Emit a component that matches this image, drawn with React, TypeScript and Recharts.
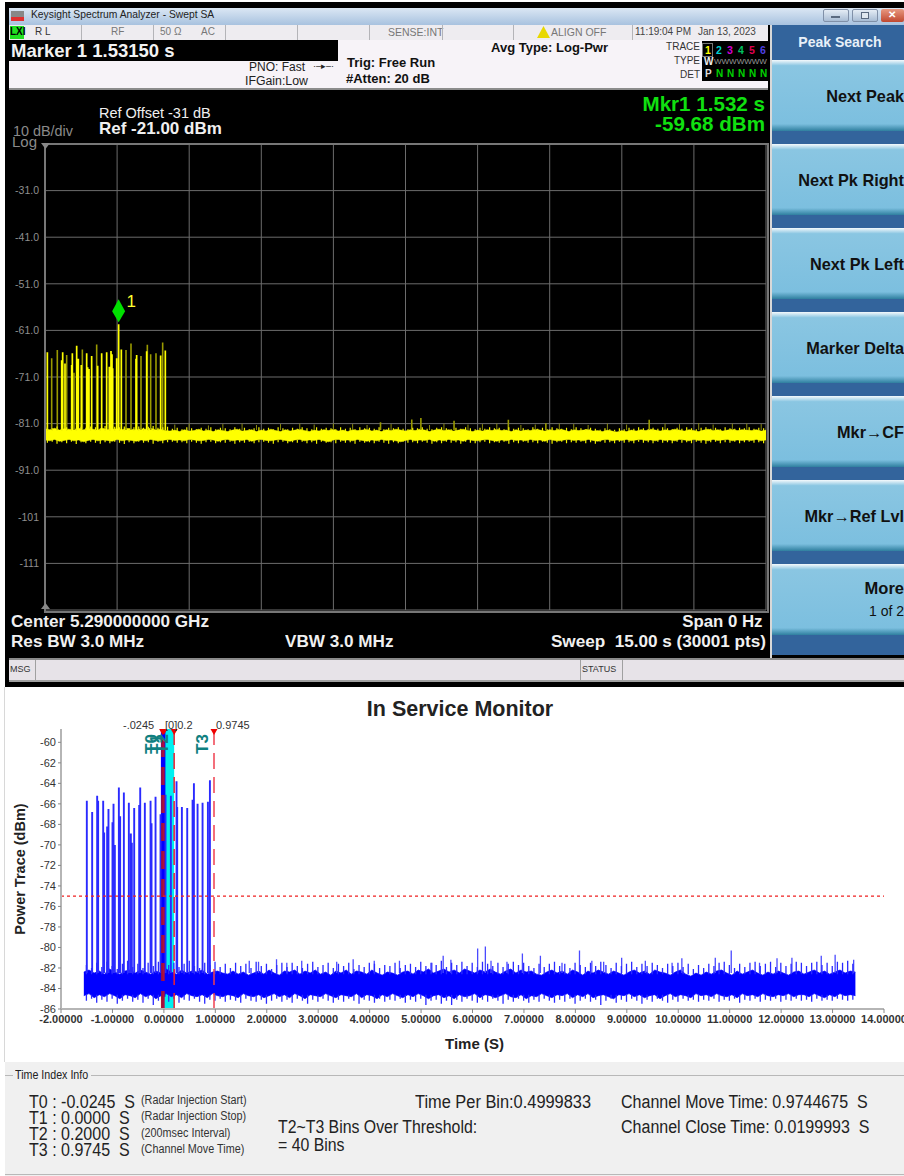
import React from "react";
import {
  ComposedChart, Area, Line, XAxis, YAxis, CartesianGrid, ReferenceLine, ReferenceDot, ReferenceArea,
} from "recharts";

// ---------- Spectrum analyzer (upper) data ----------
const saXTicks = [0, 1.5, 3, 4.5, 6, 7.5, 9, 10.5, 12, 13.5, 15];
const saYTicks = [-21, -31, -41, -51, -61, -71, -81, -91, -101, -111, -121];
const saBrightTimes = [0.049, 0.347, 0.368, 0.416, 0.555, 0.569, 0.659, 0.693, 0.756, 0.867, 0.888, 0.915, 0.971, 1.096, 1.179, 1.283, 1.338, 1.373, 1.394, 1.408, 1.491, 1.532, 1.588, 1.893, 1.907, 2.115, 2.406, 2.503];
const saBrightPeaks = [-65.7, -67.4, -65.7, -68.1, -68.4, -65.9, -64.3, -67.1, -68.4, -65.9, -68.9, -69.3, -66.5, -68.6, -65.9, -65.7, -68.8, -65.4, -66.1, -69.1, -67.0, -59.68, -65.1, -67.1, -66.3, -65.5, -66.4, -65.3];
const saDimTimes = [0.139, 0.256, 0.451, 0.603, 0.777, 1.075, 1.685, 1.789, 1.997, 2.129, 2.198, 2.309, 2.448, 6.98, 7.63, 7.82, 8.51, 9.64, 10.42, 12.57];
const saDimPeaks = [-67.0, -65.2, -66.3, -70.1, -65.1, -64.0, -65.2, -63.8, -66.5, -64.1, -66.1, -65.9, -63.6, -80.7, -80.1, -79.8, -80.4, -80.2, -80.9, -80.2];
const saTipTimes = [2.7, 3.0, 3.4, 3.7, 4.1, 4.4, 4.9, 5.3, 5.6, 6.0, 6.4, 6.7, 7.2, 8.0, 8.3, 8.8, 9.1, 9.4, 9.9, 10.2, 10.7, 11.0, 11.3, 11.7, 12.1, 12.9, 13.2, 13.6, 13.9, 14.3, 14.6, 14.9];
const saTipPeaks = [-81.2, -81.0, -81.4, -81.1, -81.0, -81.3, -81.1, -81.0, -81.2, -81.0, -81.1, -81.3, -81.1, -81.3, -81.0, -81.2, -81.1, -81.0, -81.3, -81.2, -81.0, -81.1, -81.3, -81.0, -81.2, -81.0, -81.1, -80.9, -81.2, -81.0, -81.0, -81.1];
const saHigh = [
  -82.1, -82.3, -82.0, -82.4, -82.1, -82.2, -82.4, -82.0, -82.3, -82.1, -82.2, -82.4, -82.0, -82.3, -82.2, -82.1, -82.3, -82.0, -82.2, -82.4, -82.1, -82.2, -82.0, -82.3, -82.2, -82.5,
  -82.6, -82.4, -82.7, -82.3, -82.6, -82.5, -82.2, -82.6, -82.4, -82.7, -82.3, -82.5, -82.7, -82.4, -82.2, -82.6, -82.5, -82.3, -82.7, -82.4, -82.6, -82.2, -82.5, -82.7,
  -82.3, -82.6, -82.4, -82.2, -82.5, -82.7, -82.4, -82.6, -82.3, -82.5, -82.2, -82.6, -82.4, -82.7, -82.3, -82.5, -82.4, -82.2, -82.6, -82.4, -82.7, -82.3, -82.5, -82.2, -82.4, -82.6,
  -82.3, -82.5, -82.2, -82.4, -82.7, -82.4, -82.2, -82.5, -82.3, -82.6, -82.4, -82.2, -82.5, -82.7, -82.4, -82.6, -82.3, -82.5, -82.2, -82.5, -82.4, -82.7, -82.3, -82.6, -82.4,
  -82.5, -82.2, -82.4, -82.6, -82.3, -82.5, -82.2, -82.4, -82.7, -82.3, -82.5, -82.4, -82.2, -82.6, -82.5, -82.7, -82.4, -82.6, -82.8, -82.5, -82.7, -82.4, -82.6, -82.3, -82.5,
  -82.2, -82.4, -82.6, -82.3, -82.5, -82.2, -82.4, -82.6, -82.3, -82.5, -82.7, -82.4, -82.2, -82.5, -82.3, -82.6, -82.4, -82.2, -82.5, -82.3, -82.4, -82.5, -82.3, -82.6, -82.4,
];
const saLow = [
  -84.5, -84.7, -84.4, -84.8, -84.6, -84.4, -84.7, -84.5, -84.9, -84.6, -84.4, -84.7, -84.5, -84.6, -84.8, -84.4, -84.7, -84.5, -84.6, -84.8, -84.5, -84.7, -84.4, -84.6, -84.7, -84.5,
  -84.4, -84.6, -84.5, -84.7, -84.4, -84.5, -84.7, -84.6, -84.4, -84.5, -84.8, -84.5, -84.4, -84.7, -84.5, -84.6, -84.4, -84.8, -84.5, -84.4, -84.6, -84.7, -84.5, -84.4,
  -84.6, -84.8, -84.5, -84.4, -84.7, -84.5, -84.6, -84.4, -84.7, -84.9, -84.5, -84.4, -84.6, -84.5, -84.7, -84.4, -84.6, -84.8, -84.5, -84.7, -84.4, -84.6, -84.5, -84.7, -84.9, -84.6,
  -84.4, -84.7, -84.5, -84.6, -84.4, -84.8, -84.5, -84.7, -84.4, -84.6, -84.5, -84.8, -84.4, -84.6, -84.7, -84.5, -84.4, -84.6, -84.8, -84.5, -84.7, -84.4, -84.6, -84.5, -84.7,
  -84.4, -84.6, -84.5, -84.8, -84.4, -84.6, -84.7, -84.5, -84.4, -84.6, -84.5, -84.7, -84.4, -84.6, -84.8, -84.5, -84.4, -84.7, -84.5, -84.6, -84.4, -84.7, -84.5, -84.4, -84.6,
  -84.5, -84.7, -84.4, -84.6, -84.5, -84.7, -84.4, -84.5, -84.7, -84.4, -84.6, -84.5, -84.7, -84.4, -84.6, -84.5, -84.4, -84.7, -84.5, -84.6, -84.5, -84.6, -84.4, -84.7, -84.5,
];
const saRippleHigh = [
  -81.7, -82.0, -81.6, -81.9, -81.8, -81.5, -82.0, -81.7, -81.9, -81.6, -81.8, -82.0, -81.5, -81.9, -81.7, -81.8, -81.6, -82.0, -81.8, -81.6, -81.9, -81.7, -81.5, -81.9, -81.8, -81.7,
  -82.1, -81.9, -82.2, -81.8, -82.0, -82.2, -81.9, -82.1, -81.8, -82.2, -81.9, -82.0, -82.2, -81.8, -82.1, -81.9, -82.2, -82.0, -81.8, -82.1, -81.9, -82.2, -81.8, -82.0,
  -82.2, -81.9, -82.1, -81.8, -82.0, -82.2, -81.8, -82.1, -81.9, -82.0, -82.2, -81.8, -82.1, -81.9, -82.2, -81.8, -82.0, -81.9, -82.1, -81.8, -82.2, -81.9, -82.0, -81.8, -82.1, -82.2,
  -81.9, -82.0, -81.8, -82.1, -82.2, -81.9, -81.8, -82.0, -82.2, -81.9, -82.1, -81.8, -82.0, -82.2, -81.9, -82.1, -81.8, -82.0, -81.9, -82.2, -81.8, -82.1, -81.9, -82.0, -82.2,
  -81.8, -82.1, -81.9, -82.2, -81.8, -82.0, -82.1, -81.9, -82.2, -81.8, -82.0, -82.2, -81.9, -82.1, -82.3, -82.0, -82.2, -82.3, -82.0, -82.2, -81.9, -82.1, -81.8, -82.0, -82.2,
  -81.9, -82.1, -81.8, -82.0, -82.2, -81.9, -82.1, -81.8, -82.0, -82.2, -81.9, -81.8, -82.1, -81.9, -82.2, -81.8, -82.0, -82.1, -81.9, -82.0, -81.8, -82.1, -81.9, -82.0,
];
const saRippleLow = [
  -85.1, -84.9, -85.3, -85.0, -85.2, -84.9, -85.4, -85.0, -85.2, -84.9, -85.1, -85.3, -85.0, -85.2, -84.9, -85.1, -85.4, -85.0, -85.2, -84.9, -85.1, -85.0, -85.3, -84.9, -85.2, -85.0,
  -84.9, -85.1, -85.0, -85.2, -84.9, -85.1, -85.3, -85.0, -84.9, -85.2, -85.0, -85.1, -84.9, -85.3, -85.0, -85.1, -84.9, -85.2, -85.0, -84.9, -85.1, -85.3, -85.0, -84.9,
  -85.2, -85.0, -85.1, -84.9, -85.2, -85.0, -85.3, -84.9, -85.1, -85.0, -85.2, -84.9, -85.1, -85.0, -85.3, -84.9, -85.1, -85.0, -85.2, -84.9, -85.1, -85.3, -85.0, -85.2, -84.9, -85.1,
  -85.0, -85.2, -84.9, -85.1, -85.3, -85.0, -85.2, -84.9, -85.1, -85.0, -85.3, -84.9, -85.1, -85.2, -85.0, -84.9, -85.2, -85.0, -85.1, -84.9, -85.3, -85.0, -85.2, -84.9, -85.1,
  -85.0, -85.2, -84.9, -85.1, -85.3, -85.0, -84.9, -85.2, -85.0, -85.1, -84.9, -85.2, -85.0, -85.3, -84.9, -85.1, -85.0, -85.2, -84.9, -85.1, -85.0, -85.2, -84.9, -85.1, -85.0,
  -85.2, -84.9, -85.1, -85.0, -85.2, -84.9, -85.1, -85.0, -85.2, -84.9, -85.1, -85.3, -85.0, -84.9, -85.2, -85.0, -85.1, -84.9, -85.2, -85.0, -84.9, -85.1, -85.0, -85.2,
];

// ---------- In Service Monitor (lower) data ----------
const ismXTicks = [-2, -1, 0, 1, 2, 3, 4, 5, 6, 7, 8, 9, 10, 11, 12, 13, 14];
const ismYTicks = [-60, -62, -64, -66, -68, -70, -72, -74, -76, -78, -80, -82, -84, -86];
const ismSpikeTimes = [-1.498, -1.394, -1.297, -1.278, -1.18, -1.161, -1.103, -1.077, -0.999, -0.979, -0.953, -0.875, -0.85, -0.778, -0.681, -0.642, -0.623, -0.577, -0.48, -0.46, -0.37, -0.259, -0.24, -0.162, -0.065, 0.032, 0.136, 0.246, 0.259, 0.35, 0.454, 0.558, 0.584, 0.655, 0.752, 0.856, 0.895];
const ismSpikePeaks = [-65.7, -66.8, -65.2, -65.7, -65.7, -68.8, -68.2, -66.5, -67.8, -66.0, -70.0, -64.4, -67.2, -64.9, -65.9, -68.9, -69.8, -66.4, -66.1, -64.4, -65.9, -65.7, -67.9, -65.3, -67.0, -65.1, -65.2, -63.8, -66.3, -66.3, -66.4, -65.6, -64.0, -66.0, -65.9, -65.8, -63.7];
const ismTipTimes = [1.66, 1.84, 2.19, 2.39, 2.68, 3.36, 3.68, 4.09, 4.58, 5.21, 5.43, 5.58, 6.1, 6.25, 6.36, 6.67, 6.97, 7.32, 7.74, 8.08, 8.32, 8.55, 8.9, 9.36, 9.88, 10.07, 10.72, 11.03, 11.58, 11.92, 12.21, 12.78, 13.05, 13.41];
const ismTipPeaks = [-81.3, -81.4, -81.15, -81.5, -81.3, -81.4, -81.15, -81.3, -81.3, -81.5, -80.8, -81.2, -80.1, -79.9, -81.3, -81.4, -80.6, -80.8, -81.5, -80.3, -81.3, -81.4, -81.0, -81.3, -81.5, -81.05, -81.0, -80.3, -81.5, -81.05, -81.0, -80.8, -80.7, -81.2];
const ismHigh = [
  -82.4, -82.2, -82.5, -82.3, -82.6, -82.1, -82.4, -82.6, -82.3, -82.2, -82.5, -82.2, -82.4, -82.6, -82.3, -82.5, -82.1, -82.4, -82.6, -82.2, -82.5, -82.3, -82.4, -82.2, -82.6, -82.4, -82.3, -82.5, -82.6, -82.3,
  -82.6, -82.4, -82.7, -82.5, -82.3, -82.6, -82.2, -82.5, -82.7, -82.3, -82.4, -82.2, -82.6, -82.3, -82.5, -82.2, -82.6, -82.4, -82.7, -82.3, -82.5, -82.2, -82.6, -82.3, -82.4, -82.6, -82.2, -82.5, -82.7, -82.4,
  -82.5, -82.7, -82.4, -82.3, -82.6, -82.2, -82.4, -82.1, -82.5, -82.3, -82.1, -82.4, -82.2, -82.5, -82.1, -82.3, -82.5, -82.2, -82.4, -82.1, -82.4, -82.6, -82.3, -82.1, -82.5, -82.2, -82.4, -82.3, -82.6, -82.7,
  -82.4, -82.2, -82.5, -82.3, -82.6, -82.2, -82.4, -82.7, -82.3, -82.5, -82.2, -82.4, -82.6, -82.3, -82.5, -82.7, -82.4, -82.2, -82.5, -82.3, -82.6, -82.2, -82.4, -82.5, -82.7, -82.4, -82.2, -82.6, -82.8, -82.5,
  -82.7, -82.4, -82.6, -82.3, -82.2, -82.5, -82.7, -82.3, -82.6, -82.4, -82.2, -82.5, -82.7, -82.4, -82.6, -82.3, -82.5, -82.7, -82.4, -82.3, -82.6, -82.4, -82.2, -82.5, -82.3, -82.6, -82.4, -82.2, -82.5, -82.3, -82.4,
];
const ismLow = [
  -84.7, -84.5, -84.9, -84.6, -84.8, -84.5, -84.7, -85.0, -84.6, -84.7, -84.9, -84.5, -84.8, -84.6, -85.0, -84.7, -84.5, -84.8, -84.6, -84.9, -84.5, -84.7, -84.8, -84.6, -84.9, -84.5, -84.7, -84.8, -84.6, -84.7,
  -84.9, -84.5, -84.7, -84.8, -84.6, -84.9, -84.7, -84.5, -84.8, -84.6, -84.9, -84.5, -84.7, -85.0, -84.6, -84.7, -84.8, -84.5, -84.7, -84.9, -84.6, -84.7, -84.8, -84.5, -84.9, -84.6, -84.7, -85.0, -84.6, -84.8,
  -84.5, -84.7, -84.9, -84.6, -84.8, -84.5, -84.7, -85.0, -84.7, -84.6, -84.9, -84.7, -85.0, -84.6, -84.8, -84.7, -84.5, -84.9, -84.6, -84.7, -84.9, -84.7, -84.5, -84.8, -84.9, -84.6, -85.0, -84.7, -84.8, -84.5,
  -84.7, -84.9, -84.6, -84.7, -84.5, -84.9, -84.6, -84.8, -84.5, -84.9, -84.7, -84.6, -84.8, -85.0, -84.6, -84.7, -84.5, -84.8, -84.6, -84.9, -84.7, -84.6, -85.0, -84.7, -84.5, -84.8, -84.6, -84.7, -84.9, -84.5,
  -84.7, -84.6, -84.8, -84.5, -84.7, -84.8, -84.6, -84.9, -84.5, -84.7, -84.6, -84.8, -84.5, -84.7, -84.8, -84.6, -84.7, -84.5, -84.8, -84.6, -84.6, -84.8, -84.5, -84.7, -84.9, -84.6, -84.8, -84.5, -84.7, -84.6, -84.7,
];
const ismRippleHigh = [
  -81.7, -82.0, -81.5, -81.9, -81.4, -81.8, -82.1, -81.6, -81.3, -81.9, -81.6, -82.0, -81.5, -81.8, -81.4, -82.0, -81.7, -81.5, -81.9, -81.6, -81.3, -81.8, -82.0, -81.5, -81.7, -81.4, -81.9, -81.6, -82.0, -81.5,
  -81.8, -81.6, -82.0, -81.4, -81.8, -81.6, -82.1, -81.7, -81.5, -81.9, -81.5, -81.8, -82.0, -81.6, -81.4, -81.9, -81.7, -81.5, -82.0, -81.6, -81.8, -81.5, -82.1, -81.7, -81.9, -81.5, -81.6, -82.0, -81.7, -81.8,
  -81.5, -82.0, -81.7, -81.6, -81.9, -81.4, -81.8, -81.5, -81.7, -81.3, -81.9, -81.5, -81.7, -81.4, -81.8, -81.5, -81.9, -81.4, -81.6, -81.8, -81.5, -81.9, -81.6, -81.4, -81.7, -81.5, -81.8, -82.0, -81.6, -81.9,
  -81.6, -81.4, -81.8, -81.6, -82.0, -81.5, -81.7, -81.9, -81.5, -81.8, -81.4, -81.7, -82.0, -81.5, -81.8, -81.6, -81.4, -81.9, -81.6, -81.8, -81.5, -81.7, -82.0, -81.6, -81.8, -81.5, -81.9, -81.6, -82.1, -81.7,
  -82.0, -81.6, -81.8, -81.5, -81.4, -81.7, -82.0, -81.6, -81.9, -81.5, -81.4, -81.8, -81.6, -81.4, -81.9, -81.5, -81.8, -81.6, -81.4, -81.5, -81.8, -81.5, -81.4, -81.7, -81.5, -81.8, -81.4, -81.5, -81.3, -81.6,
];
const ismRippleLow = [
  -85.2, -85.0, -85.4, -85.1, -85.3, -85.0, -85.5, -85.2, -85.0, -85.3, -85.1, -85.4, -85.0, -85.6, -85.2, -85.1, -85.3, -85.0, -85.4, -85.1, -85.2, -85.0, -85.3, -85.5, -85.1, -85.2, -85.0, -85.3, -85.1, -85.2,
  -85.4, -85.0, -85.2, -85.3, -85.1, -85.5, -85.2, -85.0, -85.3, -85.1, -85.4, -85.0, -85.2, -85.5, -85.1, -85.3, -85.0, -85.2, -85.4, -85.1, -85.3, -85.0, -85.2, -85.5, -85.1, -85.2, -85.4, -85.0, -85.3, -85.1,
  -85.2, -85.0, -85.4, -85.1, -85.3, -85.0, -85.6, -85.2, -85.1, -85.5, -85.2, -85.6, -85.1, -85.3, -85.0, -85.2, -85.4, -85.1, -85.3, -85.0, -85.2, -85.5, -85.1, -85.3, -85.0, -85.2, -85.4, -85.1, -85.3, -85.0,
  -85.2, -85.4, -85.1, -85.3, -85.0, -85.5, -85.2, -85.0, -85.3, -85.1, -85.6, -85.2, -85.0, -85.4, -85.1, -85.3, -85.0, -85.2, -85.5, -85.1, -85.3, -85.0, -85.2, -85.4, -85.1, -85.3, -85.0, -85.2, -85.1, -85.3,
  -85.1, -85.2, -85.0, -85.3, -85.1, -85.2, -85.0, -85.4, -85.1, -85.2, -85.0, -85.3, -85.1, -85.2, -85.0, -85.3, -85.1, -85.2, -85.0, -85.2, -85.1, -85.3, -85.0, -85.2, -85.1, -85.2, -85.0, -85.1, -85.2, -85.1,
];
const markerT0 = -0.0245;
const markerT1 = 0;
const markerT2 = 0.2;
const markerT3 = 0.9745;
const threshold = -75;

const statusCells = [81, 153, 225, 297, 369, 442, 513, 632];
const softKeys = [
  { label: "Next Peak", top: 60 },
  { label: "Next Pk Right", top: 144 },
  { label: "Next Pk Left", top: 228 },
  { label: "Marker Delta", top: 312 },
  { label: "Mkr→CF", top: 396 },
  { label: "Mkr→Ref Lvl", top: 480 },
  { label: "More", top: 564, sub: "1 of 2" },
];
const traceDigits = [
  { d: "1", c: "#ffff00" }, { d: "2", c: "#00d0d0" }, { d: "3", c: "#d000d0" },
  { d: "4", c: "#00c060" }, { d: "5", c: "#e00050" }, { d: "6", c: "#5040e0" },
];

const bandRows = (start: number, lo: number[], hi: number[]) =>
  hi.map((h, i) => ({ t: start + i * 0.1, band: [lo[i], h] }));
// A null row lifts the pen, so each spike stays a separate vertical stroke.
const spikeRows = (times: number[], peaks: number[], base: number) =>
  times.flatMap((t, i) => [{ t, v: base }, { t, v: peaks[i] }, { t, v: null }]);
const rippleRows = (start: number, peaks: number[], base: number) =>
  peaks.flatMap((p, i) => [{ t: start + i * 0.1, v: base }, { t: start + i * 0.1, v: p }, { t: start + i * 0.1, v: null }]);

const SANS = "'Liberation Sans', Arial, sans-serif";

type TP = {
  x: number; y: number; size?: number; bold?: boolean; color?: string;
  right?: boolean; center?: boolean; sx?: number; children: React.ReactNode;
};
function T({ x, y, size = 12, bold, color = "#000", right, center, sx = 1, children }: TP) {
  const origin = right ? "right center" : center ? "center center" : "left center";
  const style: React.CSSProperties = {
    position: "absolute", top: y - size, lineHeight: `${size * 2}px`, fontSize: size,
    fontFamily: SANS, fontWeight: bold ? 700 : 400, color, whiteSpace: "pre",
    transform: `scaleX(${sx})`, transformOrigin: origin,
  };
  if (right) style.right = 904 - x;
  else if (center) { style.left = x - 300; style.width = 600; style.textAlign = "center"; }
  else style.left = x;
  return <div style={style}>{children}</div>;
}
const Box = ({ l, t, w, h, bg, extra }: { l: number; t: number; w: number; h: number; bg: string; extra?: React.CSSProperties }) => (
  <div style={{ position: "absolute", left: l, top: t, width: w, height: h, background: bg, ...extra }} />
);

const MarkerDiamond = (p: any) => {
  const { cx, cy } = p;
  return (
    <g>
      <polygon points={`${cx},${cy - 25} ${cx + 6.5},${cy - 13} ${cx},${cy - 2} ${cx - 6.5},${cy - 13}`} fill="#00e000" />
      <text x={cx + 8} y={cy - 17} fill="#ffff30" fontSize={17} fontFamily={SANS}>1</text>
    </g>
  );
};
const RedTriangle = (p: any) => (
  <polygon points={`${p.cx - 3.5},${p.cy} ${p.cx + 3.5},${p.cy} ${p.cx},${p.cy + 6}`} fill="#f00000" />
);
const saLabel = (v: number) => {
  if (v === -21 || v === -121) return "";
  return v <= -100 ? String(v) : v.toFixed(1);
};

function SpectrumChart() {
  return (
    <ComposedChart
      width={772} height={500}
      data={bandRows(0, saLow, saHigh)}
      margin={{ top: 14, right: 6, bottom: 20, left: 0 }}
    >
      <CartesianGrid stroke="#6c6c6c" strokeWidth={1} />
      <XAxis type="number" dataKey="t" domain={[0, 15]} ticks={saXTicks} tick={{ fill: "none", fontSize: 1 }} tickFormatter={() => ""} tickLine={false} axisLine={false} height={0} interval={0} />
      <YAxis
        type="number" domain={[-121, -21]} ticks={saYTicks} width={45} axisLine={false} tickLine={false} interval={0} tickSize={4}
        tick={{ fill: "#8f8f8f", fontSize: 10.5, fontFamily: SANS }}
        tickFormatter={saLabel}
      />
      <Area dataKey="band" type="linear" stroke="#ffff00" strokeWidth={0.5} fill="#ffff00" fillOpacity={1} isAnimationActive={false} dot={false} activeDot={false} />
      <Line data={spikeRows(saDimTimes, saDimPeaks, -82.4)} dataKey="v" stroke="#9a9a00" strokeWidth={1.6} dot={false} isAnimationActive={false} />
      <Line data={spikeRows(saTipTimes, saTipPeaks, -82.4)} dataKey="v" stroke="#8a8a10" strokeWidth={1} dot={false} isAnimationActive={false} />
      <Line data={spikeRows(saBrightTimes, saBrightPeaks, -82.5)} dataKey="v" stroke="#ffff00" strokeWidth={1.7} dot={false} isAnimationActive={false} />
      <Line data={rippleRows(0.05, saRippleHigh, -82.6)} dataKey="v" stroke="#f2f200" strokeWidth={1.2} dot={false} isAnimationActive={false} />
      <Line data={rippleRows(0.05, saRippleLow, -84.5)} dataKey="v" stroke="#f2f200" strokeWidth={1.2} dot={false} isAnimationActive={false} />
      <ReferenceDot x={1.5315} y={-59.68} shape={MarkerDiamond} ifOverflow="visible" />
    </ComposedChart>
  );
}

function MonitorChart() {
  return (
    <ComposedChart
      width={904} height={360}
      data={bandRows(-1.556, ismLow, ismHigh)}
      margin={{ top: 29, right: 20, bottom: 0, left: 0 }}
    >
      <XAxis
        type="number" dataKey="t" domain={[-2, 14]} ticks={ismXTicks} height={51} interval={0}
        axisLine={{ stroke: "#b5b5b5", strokeWidth: 2 }} tickLine={{ stroke: "#888" }} tickSize={4}
        tick={{ fill: "#333", fontSize: 11, fontWeight: 700, fontFamily: SANS }}
        tickFormatter={(v: number) => v.toFixed(5)}
        label={{ value: "Time (S)", position: "insideBottom", offset: 11, dx: 2, fill: "#222", fontSize: 15, fontWeight: 700, fontFamily: SANS }}
      />
      <YAxis
        type="number" domain={[-86, -58.7]} ticks={ismYTicks} width={61} interval={0}
        axisLine={{ stroke: "#b5b5b5", strokeWidth: 2 }} tickLine={{ stroke: "#888" }} tickSize={3}
        tick={{ fill: "#333", fontSize: 11, fontFamily: SANS }}
        label={{ value: "Power Trace (dBm)", angle: -90, position: "insideLeft", offset: 20, fill: "#222", fontSize: 14.5, fontWeight: 700, fontFamily: SANS, style: { textAnchor: "middle" } }}
      />
      <ReferenceArea x1={markerT1} x2={markerT2} y1={-86} y2={-58.7} fill="#00f0f0" fillOpacity={1} stroke="none" />
      <ReferenceArea x1={-0.058} x2={0.03} y1={-84.8} y2={-58.7} fill="#0000ff" fillOpacity={1} stroke="none" />
      <Area dataKey="band" type="linear" stroke="#0000ff" strokeWidth={0.7} fill="#0000ff" fillOpacity={1} isAnimationActive={false} dot={false} activeDot={false} />
      <Line data={spikeRows(ismSpikeTimes, ismSpikePeaks, -82.5)} dataKey="v" stroke="#2a2aff" strokeWidth={1.9} dot={false} isAnimationActive={false} />
      <Line data={spikeRows(ismTipTimes, ismTipPeaks, -82.5)} dataKey="v" stroke="#4a4aff" strokeWidth={1.3} dot={false} isAnimationActive={false} />
      <Line data={rippleRows(-1.506, ismRippleHigh, -82.6)} dataKey="v" stroke="#2a2aff" strokeWidth={1.3} dot={false} isAnimationActive={false} />
      <Line data={rippleRows(-1.506, ismRippleLow, -84.6)} dataKey="v" stroke="#2a2aff" strokeWidth={1.3} dot={false} isAnimationActive={false} />
      <ReferenceArea x1={-0.058} x2={0} y1={-86} y2={-84.8} fill="#f07010" fillOpacity={1} stroke="none" />
      <ReferenceLine x={markerT0} stroke="#a0103c" strokeWidth={3} strokeDasharray="18 10" />
      <ReferenceLine x={markerT1} stroke="#b01040" strokeWidth={1.5} strokeDasharray="18 10" />
      <ReferenceLine x={markerT2} stroke="#f02030" strokeWidth={1.5} strokeDasharray="16 8" />
      <ReferenceLine x={markerT3} stroke="#f04050" strokeWidth={1.5} strokeDasharray="16 8" />
      <ReferenceLine y={threshold} stroke="#f02020" strokeWidth={1.2} strokeDasharray="3 3" />
      <ReferenceDot x={markerT0} y={-58.7} shape={RedTriangle} ifOverflow="visible" />
      <ReferenceDot x={markerT1} y={-58.7} shape={RedTriangle} ifOverflow="visible" />
      <ReferenceDot x={markerT2} y={-58.7} shape={RedTriangle} ifOverflow="visible" />
      <ReferenceDot x={markerT3} y={-58.7} shape={RedTriangle} ifOverflow="visible" />
    </ComposedChart>
  );
}

function AnalyzerChrome() {
  return (
    <>
      <Box l={5} t={2} w={899} h={685} bg="#000" />
      {/* title bar */}
      <Box l={9} t={8} w={895} h={17} bg="linear-gradient(#dbe7f4,#a8c2df)" />
      <Box l={11} t={11} w={13} h={10} bg="linear-gradient(#888 60%,#e03030 60%)" />
      <T x={31} y={15} size={10.3} color="#222">Keysight Spectrum Analyzer - Swept SA</T>
      <Box l={823} t={9} w={26} h={13} bg="linear-gradient(#e4ecf5,#a8bcd4)" extra={{ border: "1px solid #8090a8", boxSizing: "border-box", borderRadius: 2 }} />
      <Box l={852} t={9} w={26} h={13} bg="linear-gradient(#e4ecf5,#a8bcd4)" extra={{ border: "1px solid #8090a8", boxSizing: "border-box", borderRadius: 2 }} />
      <Box l={881} t={9} w={23} h={13} bg="linear-gradient(#e89880,#c04830)" extra={{ borderRadius: 2 }} />
      <Box l={831} t={16} w={9} h={2} bg="#5a6a80" />
      <Box l={861} t={12} w={8} h={7} bg="#e0e8f0" extra={{ border: "1px solid #5a6a80", boxSizing: "border-box" }} />
      <T x={888} y={15} size={10} bold color="#fff">✕</T>
      {/* status strip */}
      <Box l={9} t={25} w={763} h={15} bg="#eeecf0" />
      <Box l={10} t={26} w={14} h={13} bg="#20e020" />
      <T x={10} y={32} size={10} bold color="#000">LXI</T>
      <T x={35} y={32} size={10} color="#333">R L</T>
      <T x={111} y={32} size={10} color="#777">RF</T>
      <T x={160} y={32} size={10} color="#777">50 Ω</T>
      <T x={201} y={32} size={10} color="#777">AC</T>
      <T x={388} y={32} size={10.5} color="#777">SENSE:INT</T>
      <Box l={537} t={26} w={13} h={12} bg="#e8d800" extra={{ clipPath: "polygon(50% 0,100% 100%,0 100%)" }} />
      <T x={551} y={32} size={10.5} color="#777">ALIGN OFF</T>
      <T x={635} y={32} size={10} color="#444">11:19:04 PM</T>
      <T x={698} y={32} size={10} color="#444">Jan 13, 2023</T>
      {statusCells.map((x) => <Box key={x} l={x} t={25} w={1} h={15} bg="#b4b4b8" />)}
      {/* settings strip */}
      <Box l={9} t={40} w={763} h={48} bg="#f7f3f8" />
      <Box l={9} t={88} w={763} h={2} bg="#8c8c8c" />
      <Box l={9} t={40} w={329} h={21} bg="#000" />
      <T x={11} y={50} size={18.5} bold color="#f2f2f2">Marker 1 1.53150 s</T>
      <T x={249} y={67} size={12} color="#222">PNO: Fast</T>
      <T x={245} y={81} size={12.3} color="#222">IFGain:Low</T>
      <T x={313} y={66} size={9} color="#222">·–▸–·</T>
      <T x={347} y={63} size={13} bold color="#111">Trig: Free Run</T>
      <T x={346} y={79} size={13} bold color="#111">#Atten: 20 dB</T>
      <T x={491} y={48} size={13} bold color="#111">Avg Type: Log-Pwr</T>
      <T x={700} y={47} size={10} right color="#333">TRACE</T>
      <T x={700} y={61} size={10} right color="#333">TYPE</T>
      <T x={700} y={75} size={10} right color="#333">DET</T>
      <Box l={702} t={41} w={66} h={40} bg="#000" />
      <Box l={703} t={44} w={9} h={12} bg="#000" extra={{ outline: "1px solid #777" }} />
      {traceDigits.map((g, i) => <T key={g.d} x={705 + i * 11} y={50} size={10.5} bold color={g.c}>{g.d}</T>)}
      <T x={704} y={62} size={10} bold color="#eee">W</T>
      <T x={714} y={62} size={8} color="#999">WWWWWWW</T>
      <T x={705} y={74} size={10} bold color="#ddd">P</T>
      {[0, 1, 2, 3, 4].map((i) => <T key={i} x={716 + i * 11} y={74} size={10} bold color="#00d000">N</T>)}
      {/* plot header */}
      <T x={99} y={113} size={14.5} color="#f0f0f0">Ref Offset -31 dB</T>
      <T x={99} y={129} size={17} bold color="#f0f0f0">Ref -21.00 dBm</T>
      <T x={13} y={131} size={14.4} color="#8a8a8a">10 dB/div</T>
      <T x={12} y={142} size={15} color="#8a8a8a">Log</T>
      <T x={765} y={104} size={20.6} bold right color="#10e010">Mkr1 1.532 s</T>
      <T x={765} y={124} size={20.6} bold right color="#10e010">-59.68 dBm</T>
      {/* plot footer */}
      <T x={11} y={622} size={16} bold sx={1.07} color="#f0f0f0">Center 5.290000000 GHz</T>
      <T x={762} y={622} size={16} bold right sx={1.05} color="#f0f0f0">Span 0 Hz</T>
      <T x={11} y={642} size={16} bold sx={1.07} color="#f0f0f0">Res BW 3.0 MHz</T>
      <T x={285} y={642} size={16} bold sx={1.07} color="#f0f0f0">VBW 3.0 MHz</T>
      <T x={766} y={642} size={16} bold right sx={1.07} color="#f0f0f0">Sweep  15.00 s (30001 pts)</T>
      {/* message strip */}
      <Box l={9} t={658} w={895} h={24} bg="#e7e3e8" extra={{ borderTop: "2px solid #8a8a8a", borderBottom: "2px solid #a0a0a0", boxSizing: "border-box" }} />
      <Box l={35} t={660} w={1} h={20} bg="#a0a0a0" />
      <Box l={580} t={660} w={1} h={20} bg="#a0a0a0" />
      <Box l={622} t={660} w={1} h={20} bg="#a0a0a0" />
      <T x={10} y={669} size={9} color="#333">MSG</T>
      <T x={582} y={669} size={9} color="#333">STATUS</T>
      {/* softkeys */}
      <Box l={768} t={25} w={4} h={633} bg="#000" />
      <Box l={770} t={25} w={2} h={633} bg="#d8d8d8" />
      <Box l={772} t={25} w={132} h={630} bg="#33649c" />
      <T x={840} y={42} size={14} bold center color="#e8f0f8">Peak Search</T>
      {softKeys.map((k) => (
        <React.Fragment key={k.label}>
          <Box l={772} t={k.top} w={132} h={71} bg="linear-gradient(#f4f9fc 0,#8ac6e2 8%,#7cbfdf 90%,#2f7f9f 100%)" />
          {k.sub ? (
            <>
              <T x={904} y={k.top + 24} size={16.5} bold right color="#111">{k.label}</T>
              <T x={904} y={k.top + 47} size={14} right color="#111">{k.sub}</T>
            </>
          ) : (
            <T x={904} y={k.top + 36} size={16.3} bold right color="#111">{k.label}</T>
          )}
        </React.Fragment>
      ))}
    </>
  );
}

function InfoPanel() {
  return (
    <>
      <Box l={5} t={1062} w={899} h={114} bg="#f0f0f0" />
      <Box l={5} t={1075} w={899} h={1} bg="#b8b8b8" />
      <Box l={5} t={1174} w={899} h={1} bg="#b8b8b8" />
      <Box l={13} t={1068} w={78} h={14} bg="#f0f0f0" />
      <T x={15} y={1075} size={12} sx={0.89} color="#222">Time Index Info</T>
      <T x={29} y={1102} size={18} sx={0.89} color="#222">T0 : -0.0245  S</T>
      <T x={29} y={1118} size={18} sx={0.89} color="#222">T1 : 0.0000  S</T>
      <T x={29} y={1134} size={18} sx={0.89} color="#222">T2 : 0.2000  S</T>
      <T x={29} y={1150} size={18} sx={0.89} color="#222">T3 : 0.9745  S</T>
      <T x={141} y={1100} size={12} sx={0.9} color="#333">(Radar Injection Start)</T>
      <T x={141} y={1116} size={12} sx={0.9} color="#333">(Radar Injection Stop)</T>
      <T x={141} y={1133} size={12} sx={0.9} color="#333">(200msec Interval)</T>
      <T x={141} y={1149} size={12} sx={0.9} color="#333">(Channel Move Time)</T>
      <T x={415} y={1102} size={18} sx={0.91} color="#222">Time Per Bin:0.4999833</T>
      <T x={621} y={1102} size={18} sx={0.89} color="#222">Channel Move Time: 0.9744675  S</T>
      <T x={621} y={1127} size={18} sx={0.89} color="#222">Channel Close Time: 0.0199993  S</T>
      <T x={278} y={1127} size={18} sx={0.88} color="#222">T2~T3 Bins Over Threshold:</T>
      <T x={278} y={1145} size={18} sx={0.88} color="#222">= 40 Bins</T>
    </>
  );
}

export default function App() {
  return (
    <div style={{ position: "absolute", left: 0, top: 0, width: 904, height: 1176, background: "#fff", overflow: "hidden" }}>
      <AnalyzerChrome />
      <div style={{ position: "absolute", left: 0, top: 130 }}><SpectrumChart /></div>
      <div style={{ position: "absolute", left: 44, top: 143, width: 721, height: 466, border: "2px solid #777", boxSizing: "content-box", pointerEvents: "none" }} />
      <Box l={41} t={143} w={9} h={6} bg="#888" extra={{ clipPath: "polygon(0 0,100% 0,50% 100%)" }} />
      <Box l={41} t={603} w={9} h={6} bg="#888" extra={{ clipPath: "polygon(50% 0,100% 100%,0 100%)" }} />
      <InfoPanel />
      <Box l={4} t={687} w={1} h={375} bg="#d8d8d8" />
      <T x={460} y={709} size={21.5} bold center color="#222">In Service Monitor</T>
      <div style={{ position: "absolute", left: 0, top: 700 }}><MonitorChart /></div>
      <T x={123} y={725} size={11} color="#333">-.0245</T>
      <T x={165} y={725} size={11} color="#333">[0]0.2</T>
      <T x={216} y={725} size={11} color="#333">0.9745</T>
      {[["T0", 152], ["T1", 157], ["T2", 163], ["T3", 203]].map(([s, x]) => (
        <div key={s as string} style={{ position: "absolute", left: (x as number) - 15, top: 735, width: 30, height: 18, lineHeight: "18px", textAlign: "center", transform: "rotate(-90deg)", fontFamily: SANS, fontWeight: 700, fontSize: 17, color: "#108080" }}>{s}</div>
      ))}
    </div>
  );
}
